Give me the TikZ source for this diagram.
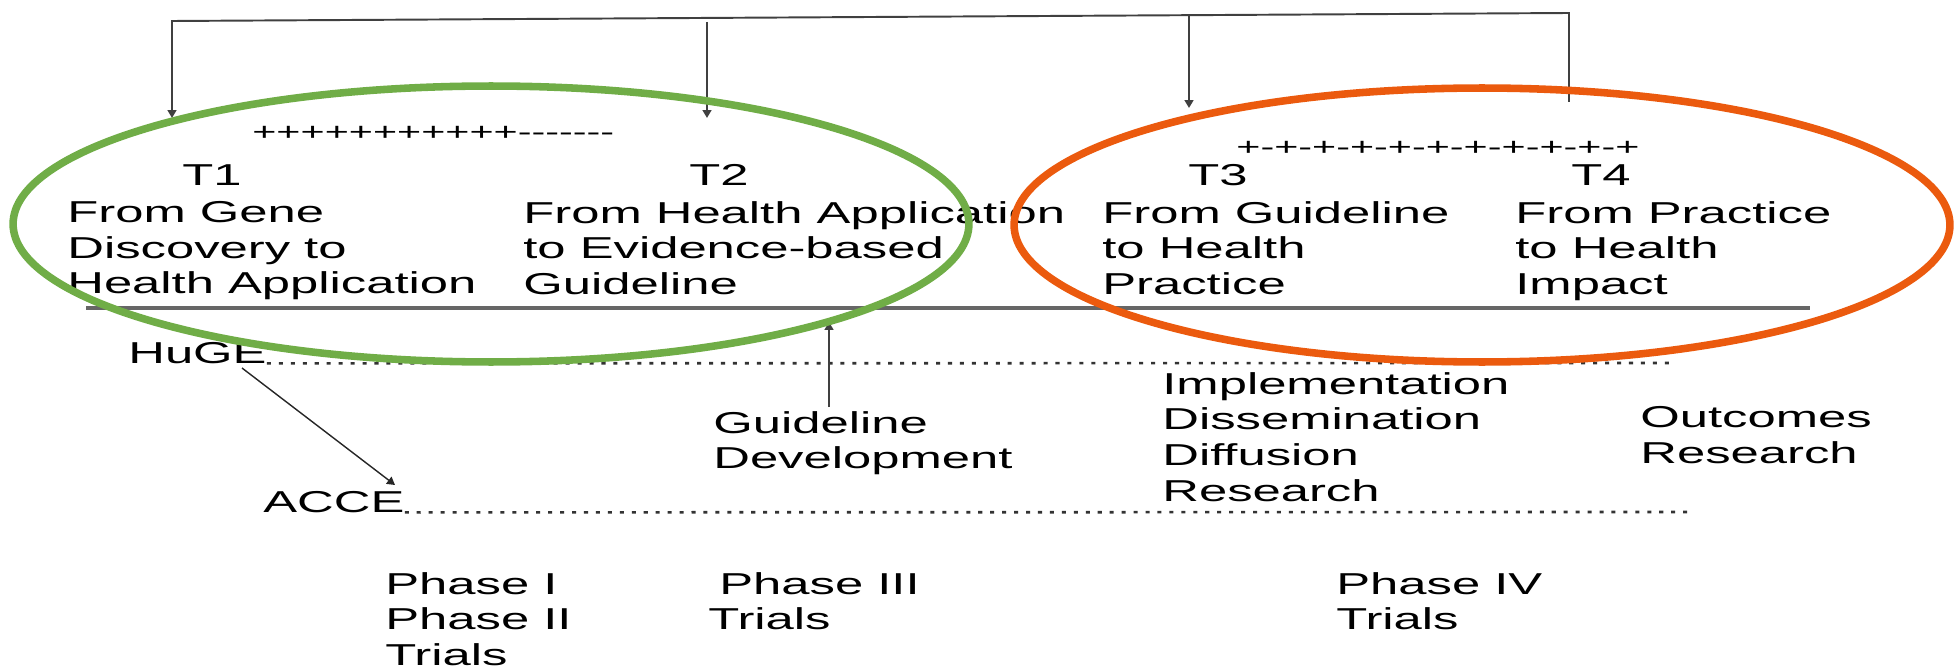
\documentclass[tikz,border=0pt]{standalone}
\usepackage{fontspec}
\setmainfont{Liberation Sans}[FakeStretch=1.68, Ligatures=TeXOff]
\usetikzlibrary{arrows.meta}
\definecolor{ringgreen}{RGB}{112,173,71}
\definecolor{ringorange}{RGB}{235,90,14}

\begin{document}
\begin{tikzpicture}[x=0.02cm, y=-0.02cm,
	lbl/.style={anchor=west, inner sep=0pt, font=\fontsize{17.2}{20.3}\selectfont},
	blk/.style={lbl, anchor=north west, align=left},
	sgn/.style={lbl, font=\fontsize{14}{17}\selectfont},
	feed/.style={draw=black!75, line width=1.1pt},
	tip/.style={-{Triangle[length=4.5pt, width=5pt]}},
	dots/.style={draw=black!80, line width=1.5pt, dash pattern=on 2.3pt off 4.5pt},
	ring/.style={line width=4.3pt}]
		\useasboundingbox (0,0) rectangle (1956,672);
		% Labels of the four steps:
		\node[lbl] (t1) at (182, 175){T1};
		\node[lbl] (t2) at (689, 175){T2};
		\node[lbl] (t3) at (1188, 175){T3};
		\node[lbl] (t4) at (1571, 175){T4};
		\node[sgn] (plusA) at (252, 133){+++++++++++-------};
		\node[sgn] (plusB) at (1236, 148){+-+-+-+-+-+-+-+-+-+-+};
		\node[blk] (d1) at (67, 201){From Gene\\Discovery to\\Health Application};
		\node[blk] (d2) at (523, 201){From Health Application\\to Evidence-based\\Guideline};
		\node[blk] (d3) at (1102, 201){From Guideline\\to Health\\Practice};
		\node[blk] (d4) at (1515, 201){From Practice\\to Health\\Impact};
		% Research below the line:
		\node[lbl] (huge) at (128, 353){HuGE};
		\node[lbl] (acce) at (263, 502){ACCE};
		\node[blk] (guide) at (713, 411){Guideline\\Development};
		\node[blk] (impl) at (1162, 372){Implementation\\Dissemination\\Diffusion\\Research};
		\node[blk] (outc) at (1640, 406){Outcomes\\Research};
		\node[blk] (ph12) at (385, 572){Phase I\\Phase II\\Trials};
		\node[blk] (ph3) at (708, 572){\hspace*{0.22cm}Phase III\\Trials};
		\node[blk] (ph4) at (1336, 572){Phase IV\\Trials};
		% Feedback paths and arrows:
		\coordinate (c1) at (172, 21);
		\coordinate (c2) at (707, 22);
		\coordinate (c3) at (1189, 15);
		\coordinate (c4) at (1569, 13);
		\coordinate (e1) at (172, 118);
		\coordinate (e2) at (707, 118);
		\coordinate (e3) at (1189, 108);
		\coordinate (e4) at (1569, 102);
		\draw[feed, tip] (e4) -- (c4) -- (c1) -- (e1);
		\draw[feed, tip] (c2) -- (e2);
		\draw[feed, tip] (c3) -- (e3);
		\coordinate (barL) at (86, 308);
		\coordinate (barR) at (1810, 308);
		\draw[draw=black!60, line width=2pt] (barL) -- (barR);
		\coordinate (hugeEnd) at (1672, 363);
		\coordinate (acceEnd) at (1694, 512);
		\draw[dots] (huge.base east) -- (hugeEnd);
		\draw[dots] (acce.base east) -- (acceEnd);
		\coordinate (hugeOut) at (242, 368);
		\coordinate (acceIn) at (395, 485);
		\draw[draw=black!85, line width=0.8pt, tip] (hugeOut) -- (acceIn);
		\coordinate (gdTop) at (829, 407);
		\coordinate (gdTip) at (829, 322);
		\draw[feed, tip] (gdTop) -- (gdTip);
		% Rings:
		\draw[ring, ringgreen] (491, 224) ellipse [x radius=9.56cm, y radius=2.76cm];
		\draw[ring, ringorange] (1482, 225) ellipse [x radius=9.36cm, y radius=2.74cm];
	\end{tikzpicture}
\end{document}
